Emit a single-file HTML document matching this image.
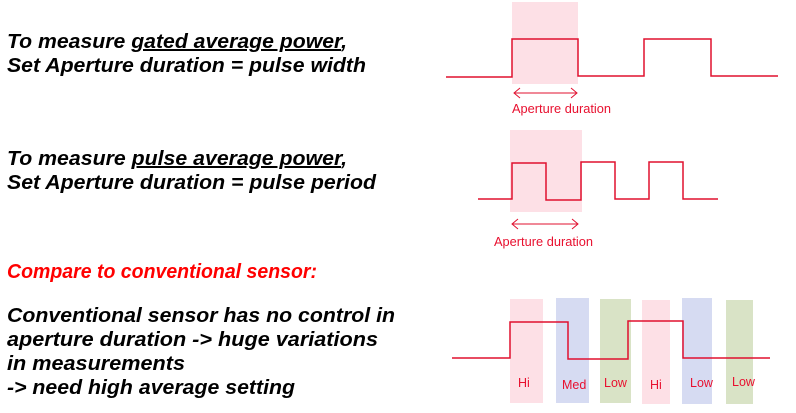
<!DOCTYPE html>
<html><head><meta charset="utf-8"><style>
html,body{margin:0;padding:0;background:#fff;}
svg{display:block;}
.t{font-family:"Liberation Sans",Arial,sans-serif;font-weight:bold;font-style:italic;font-size:20px;fill:#000;}
.s{font-family:"Liberation Sans",Arial,sans-serif;font-size:12.5px;fill:#e8102f;}
.w{fill:none;stroke:#e0102f;stroke-width:1.5;}
</style></head><body>
<svg width="796" height="413" viewBox="0 0 796 413" xmlns="http://www.w3.org/2000/svg">
<text class="t" x="7" y="48" textLength="340" lengthAdjust="spacingAndGlyphs">To measure <tspan text-decoration="underline">gated average power</tspan>,</text>
<text class="t" x="7" y="72" textLength="359" lengthAdjust="spacingAndGlyphs">Set Aperture duration = pulse width</text>
<text class="t" x="7" y="165" textLength="340" lengthAdjust="spacingAndGlyphs">To measure <tspan text-decoration="underline">pulse average power</tspan>,</text>
<text class="t" x="7" y="189" textLength="369" lengthAdjust="spacingAndGlyphs">Set Aperture duration = pulse period</text>
<text class="t" x="7" y="278" style="fill:#ff0000" textLength="310" lengthAdjust="spacingAndGlyphs">Compare to conventional sensor:</text>
<text class="t" x="7" y="322" textLength="388" lengthAdjust="spacingAndGlyphs">Conventional sensor has no control in</text>
<text class="t" x="7" y="346" textLength="371" lengthAdjust="spacingAndGlyphs">aperture duration  -&gt; huge variations</text>
<text class="t" x="7" y="370" textLength="178" lengthAdjust="spacingAndGlyphs">in measurements</text>
<text class="t" x="7" y="394" textLength="288" lengthAdjust="spacingAndGlyphs">-&gt; need high average setting</text>

<rect x="512" y="2" width="66" height="82" fill="#fde0e6"/>
<polyline class="w" points="446,77 512,77 512,39 578,39 578,76 644,76 644,39 711,39 711,76 778,76"/>
<line x1="514" y1="93" x2="577" y2="93" stroke="#e0102f" stroke-width="1"/>
<polyline points="520,88 514,93 520,98" fill="none" stroke="#e0102f" stroke-width="1"/>
<polyline points="571,88 577,93 571,98" fill="none" stroke="#e0102f" stroke-width="1"/>
<text class="s" x="512" y="113" textLength="99" lengthAdjust="spacingAndGlyphs">Aperture duration</text>

<rect x="510" y="130" width="72" height="82" fill="#fde0e6"/>
<polyline class="w" points="478,199 512,199 512,163 546,163 546,200 581,200 581,162 615,162 615,199 649,199 649,162 683,162 683,199 718,199"/>
<line x1="512" y1="224" x2="578" y2="224" stroke="#e0102f" stroke-width="1"/>
<polyline points="518,219 512,224 518,229" fill="none" stroke="#e0102f" stroke-width="1"/>
<polyline points="572,219 578,224 572,229" fill="none" stroke="#e0102f" stroke-width="1"/>
<text class="s" x="494" y="246" textLength="99" lengthAdjust="spacingAndGlyphs">Aperture duration</text>

<rect x="510" y="299" width="33" height="104" fill="#fde0e6"/>
<rect x="556" y="298" width="33" height="105" fill="#d6dbf2"/>
<rect x="600" y="299" width="31" height="104" fill="#d9e3c6"/>
<rect x="642" y="300" width="28" height="104" fill="#fde0e6"/>
<rect x="682" y="298" width="30" height="106" fill="#d6dbf2"/>
<rect x="726" y="300" width="27" height="104" fill="#d9e3c6"/>
<polyline class="w" points="452,358 510,358 510,322 568,322 568,359 628,359 628,321 683,321 683,358 770,358"/>
<text class="s" x="518" y="387">Hi</text>
<text class="s" x="562" y="389">Med</text>
<text class="s" x="604" y="387">Low</text>
<text class="s" x="650" y="389">Hi</text>
<text class="s" x="690" y="387">Low</text>
<text class="s" x="732" y="386">Low</text>
</svg>
</body></html>
